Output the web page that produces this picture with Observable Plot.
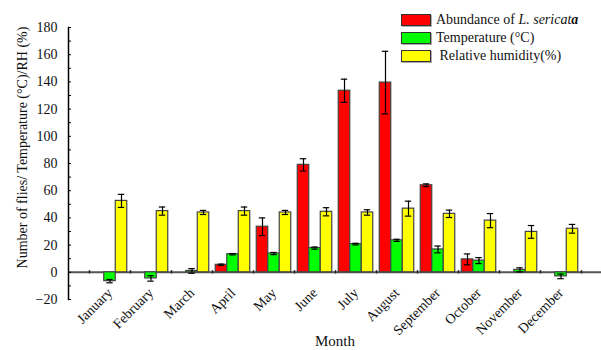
<!DOCTYPE html>
<html><head><meta charset="utf-8">
<script src="https://cdn.jsdelivr.net/npm/d3@7"></script>
<script src="https://cdn.jsdelivr.net/npm/@observablehq/plot@0.6"></script>
<style>
body{margin:0;background:#fff;font-family:"Liberation Serif","Times New Roman",serif;}
#wrap{position:relative;width:601px;height:350px;}
#chart svg, #chart svg text{font-family:"Liberation Serif","Times New Roman",serif !important;}
#legend{position:absolute;left:401px;top:11px;font-size:14px;color:#111;line-height:18px;}
.row{display:flex;align-items:center;height:18px;white-space:nowrap;}
.sw{width:30px;height:12px;border:1px solid #333;box-sizing:border-box;margin-right:5px;box-shadow:1px 1px 0 #aaa;}
</style></head>
<body>
<div id="wrap">
<div id="chart"></div>
<div id="legend">
 <div class="row"><span class="sw" style="background:#ff0000"></span>Abundance of&nbsp;<i>L. sericat<b>a</b></i></div>
 <div class="row"><span class="sw" style="background:#00ff00"></span>Temperature (°C)</div>
 <div class="row"><span class="sw" style="background:#ffff00"></span>&nbsp;Relative humidity(%)</div>
</div>
</div>
<script>
const months = ["January","February","March","April","May","June","July","August","September","October","November","December"];
const abundance = [0,0,0,5.5,33.5,79,133.5,139.5,64,9.5,0,0];
const abundanceErr = [0,0,0,0.5,6.5,4.5,8.5,23,1,4,0,0];
const temperature = [-6.5,-4.5,1,13.3,13.8,17.8,20.7,23.5,16.8,8.6,1.8,-3];
const temperatureErr = [1.2,2,1.7,0.5,0.8,0.8,0.6,0.8,2.5,2.2,1.5,1.7];
const humidity = [52.5,45,44,45,44,44.5,44,46.8,43,38,29.7,32];
const humidityErr = [4.8,3,1.5,3,1.5,3,2,5.5,2.7,5.2,4.7,3.2];
const yTicks = [-20,0,20,40,60,80,100,120,140,160,180];

const FONT = "'Liberation Serif','Times New Roman',serif";
const rows = months.map((m,i)=>({month:m,
  a:abundance[i], ae:abundanceErr[i],
  t:temperature[i], te:temperatureErr[i],
  h:humidity[i], he:humidityErr[i]}));

const W = 41, BW = 11.5, off = (W - 3*BW)/2;
const series = [
  {key:"a", err:"ae", fill:"#ff0000"},
  {key:"t", err:"te", fill:"#00ff00"},
  {key:"h", err:"he", fill:"#ffff00"}
];

const marks = [
  Plot.ruleY([0], {stroke:"#555", strokeWidth:2}),
  Plot.ruleX(months, {x: d=>d, dx: -W/2, y1: -1.2, y2: 1.2, stroke:"#222", strokeWidth:1.5}),
  Plot.ruleX([months[11]], {x: d=>d, dx: W/2, y1: -1.2, y2: 1.2, stroke:"#222", strokeWidth:1.5}),
  Plot.frame({anchor:"left", stroke:"#000", strokeWidth:1.5}),
  Plot.axisY({ticks: d3.range(-20,181,10), tickSize:-3, text:null, stroke:"#000"}),
  Plot.axisY({ticks: yTicks, tickSize:0, tickPadding:11, fontSize:14, fontFamily:FONT, fill:"#111", label:null}),
  Plot.axisX({tickSize:0, tickRotate:-45, tickPadding:-9, fontSize:14, fontFamily:FONT, fill:"#111", label:null}),
  Plot.text(["Number of flies/ Temperature (°C)/RH (%)"], {frameAnchor:"left", textAnchor:"middle", rotate:-90, dx:-46, dy:-16, fontSize:14, fontFamily:FONT, fill:"#111"}),
  Plot.text(["Month"], {frameAnchor:"bottom", dy:46, fontSize:15, fontFamily:FONT, fill:"#111"})
];

series.forEach((s,i)=>{
  const il = off + i*BW, ir = W - off - (i+1)*BW;
  const c = off + (i+0.5)*BW;
  const data = rows.filter(d=>d[s.key] !== 0);
  const edata = rows.filter(d=>d[s.err] > 0);
  marks.push(Plot.barY(data, {x:"month", y:s.key, fill:s.fill, stroke:"#444", strokeWidth:1.2, insetLeft:il, insetRight:ir}));
  marks.push(Plot.ruleX(edata, {x:"month", dx: c - W/2, y1: d=>d[s.key]-d[s.err], y2: d=>d[s.key]+d[s.err], stroke:"#000", strokeWidth:1.2}));
  marks.push(Plot.tickY(edata, {x:"month", y: d=>d[s.key]+d[s.err], insetLeft:c-3.2, insetRight:W-c-3.2, stroke:"#000", strokeWidth:1.2}));
  marks.push(Plot.tickY(edata, {x:"month", y: d=>d[s.key]-d[s.err], insetLeft:c-3.2, insetRight:W-c-3.2, stroke:"#000", strokeWidth:1.2}));
});

const chart = Plot.plot({
  width:601, height:350,
  marginLeft:68, marginRight:0, marginTop:27, marginBottom:51,
  style:{fontFamily:FONT, background:"#fff"},
  x:{domain:months, range:[89,581], padding:0, axis:null},
  y:{domain:[-20,180], axis:null},
  marks
});
document.getElementById("chart").appendChild(chart);
</script>
</body></html>
